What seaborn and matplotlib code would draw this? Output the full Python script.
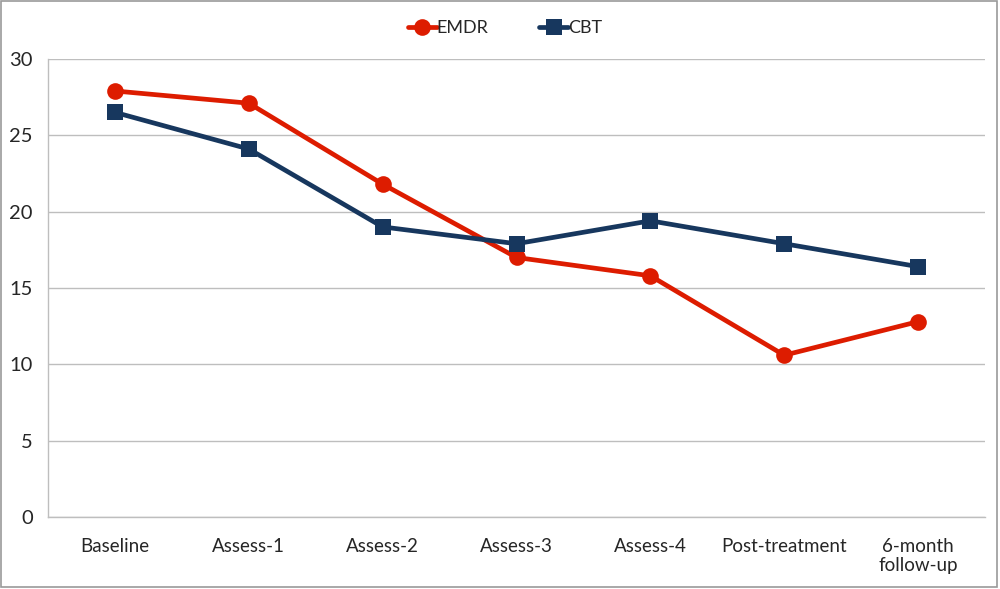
import pandas as pd
import matplotlib.pyplot as plt
import seaborn as sns
from matplotlib.patches import Rectangle
from matplotlib.lines import Line2D


stages = ['Baseline', 'Assess-1', 'Assess-2', 'Assess-3', 'Assess-4',
          'Post-treatment', '6-month\nfollow-up']
emdr = [27.9, 27.1, 21.8, 17.0, 15.8, 10.6, 12.8]
cbt = [26.5, 24.1, 19.0, 17.9, 19.4, 17.9, 16.4]

red = '#DD1C00'
navy = '#17375E'

df = pd.DataFrame({
    'stage': stages * 2,
    'score': emdr + cbt,
    'group': ['EMDR'] * len(stages) + ['CBT'] * len(stages),
})

sns.set_style('white')
plt.rcParams['font.family'] = ['Lato', 'DejaVu Sans']

fig = plt.figure(figsize=(10, 5.89), dpi=100)
ax = fig.add_axes([0.048, 0.122, 0.937, 0.778])

sns.lineplot(data=df, x='stage', y='score', hue='group', style='group',
             palette={'EMDR': red, 'CBT': navy},
             markers={'EMDR': 'o', 'CBT': 's'}, dashes=False,
             linewidth=3.4, markersize=12, markeredgewidth=0,
             sort=False, legend=False, ax=ax)

ax.set_xlim(-0.5, len(stages) - 0.5)
ax.set_ylim(0, 30)
ax.set_yticks(range(0, 31, 5))
ax.grid(axis='y', color='#BEBEBE', linewidth=1)
ax.set_axisbelow(True)
ax.set_xlabel('')
ax.set_ylabel('')

# category ticks sit between the labels, like the spreadsheet chart
ax.set_xticks([i - 0.5 for i in range(len(stages) + 1)], minor=True)
ax.set_xticks(range(len(stages)))
ax.set_xticklabels(stages, fontsize=13.5, linespacing=1.15)
ax.tick_params(axis='x', which='major', length=0, pad=15)
ax.tick_params(axis='x', which='minor', length=5, color='#BEBEBE', width=1,
               direction='in')
ax.tick_params(axis='y', length=6, color='#BEBEBE', width=1, labelsize=14.5,
               pad=5, direction='out')

for side in ['top', 'right']:
    ax.spines[side].set_visible(False)
for side in ['left', 'bottom']:
    ax.spines[side].set_color('#BEBEBE')
    ax.spines[side].set_linewidth(1)

handles = [
    Line2D([], [], color=red, lw=3.4, marker='o', markersize=12, markeredgewidth=0),
    Line2D([], [], color=navy, lw=3.4, marker='s', markersize=12, markeredgewidth=0),
]
fig.legend(handles, ['EMDR', 'CBT'], loc='center', bbox_to_anchor=(0.505, 0.952),
           ncol=2, frameon=False, fontsize=13, handlelength=1.6,
           handletextpad=0.0, columnspacing=2.8)

fig.patches.append(Rectangle((0.001, 0.004), 0.996, 0.994, transform=fig.transFigure,
                             fill=False, edgecolor='#9A9A9A', linewidth=1.2))

fig.savefig('out.png', dpi=100)
